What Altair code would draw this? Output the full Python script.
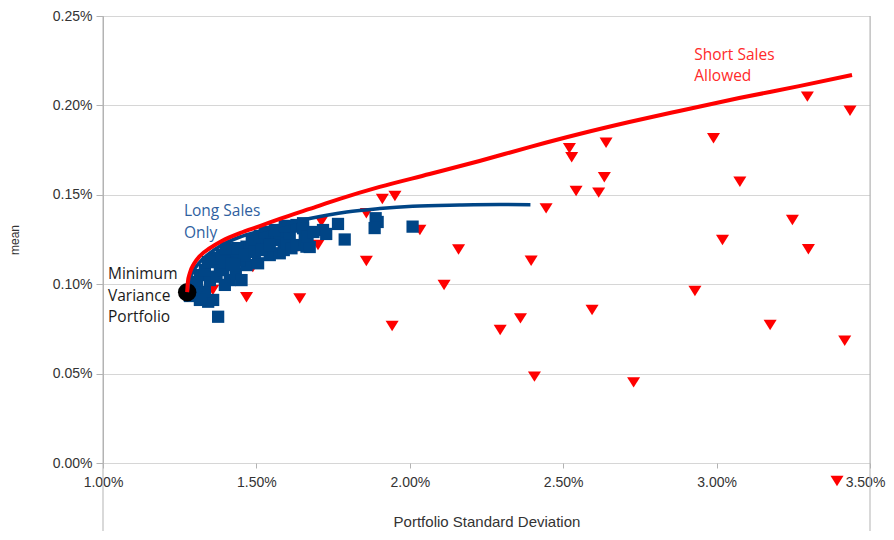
import altair as alt
import pandas as pd

# ---------------- data (percent units) ----------------
short_sd = [1.2744, 1.2767, 1.2832, 1.2962, 1.3158, 1.3483, 1.3874, 1.4460, 1.5111, 1.5762,
            1.6738, 1.7715, 1.9017, 2.0645, 2.2272, 2.3900, 2.5527, 2.7155, 2.8783, 3.0736,
            3.2689, 3.4414]
short_mean = [0.0956, 0.1012, 0.1063, 0.1113, 0.1158, 0.1202, 0.1242, 0.1286, 0.1325, 0.1365,
              0.1421, 0.1477, 0.1544, 0.1616, 0.1689, 0.1767, 0.1840, 0.1907, 0.1969, 0.2041,
              0.2108, 0.2170]

long_sd = [1.2744, 1.2799, 1.2930, 1.3158, 1.3483, 1.3874, 1.4460, 1.5111, 1.5762, 1.6738,
           1.7943, 1.9017, 2.0091, 2.1621, 2.2923, 2.3932]
long_mean = [0.0956, 0.1012, 0.1068, 0.1124, 0.1174, 0.1219, 0.1264, 0.1297, 0.1328, 0.1367,
             0.1404, 0.1423, 0.1436, 0.1443, 0.1446, 0.1445]

asset_sd = [1.4678, 1.6413, 1.6357, 1.7008, 1.7119, 1.8584, 1.9105, 1.9515, 2.0329, 1.8584,
            1.9424, 2.1117, 2.1589, 2.2946, 2.3607, 2.3955, 2.4063, 2.4443, 2.5202, 2.5277,
            2.5420, 2.5941, 2.6156, 2.6341, 2.6397, 2.7295, 2.9294, 2.9899, 3.0192, 3.0758,
            3.1745, 3.2471, 3.2959, 3.2992, 3.4176, 3.4349, 1.3580, 1.4883]
asset_mean = [0.0927, 0.0920, 0.1210, 0.1219, 0.1350, 0.1397, 0.1477, 0.1493, 0.1303, 0.1130,
              0.0766, 0.0996, 0.1194, 0.0744, 0.0809, 0.1131, 0.0483, 0.1424, 0.1760, 0.1710,
              0.1521, 0.0856, 0.1512, 0.1598, 0.1791, 0.0451, 0.0962, 0.1816, 0.1247, 0.1573,
              0.0772, 0.1359, 0.2049, 0.1195, 0.0684, 0.1970, 0.0968, 0.1096]

port_sd = [1.3753, 1.3590, 1.3428, 1.3213, 1.3320, 1.3060, 1.3158, 1.3483, 1.3701, 1.3916,
           1.3809, 1.4134, 1.4329, 1.4515, 1.4678, 1.5055, 1.4134, 1.4297, 1.4460, 1.4678,
           1.4850, 1.5218, 1.5329, 1.5436, 1.5436, 1.5654, 1.5762, 1.5892, 1.5762, 1.5869,
           1.5980, 1.6143, 1.6087, 1.6195, 1.6305, 1.6305, 1.6520, 1.6520, 1.6576, 1.6631,
           1.6738, 1.7171, 1.7275, 1.7660, 1.7878, 1.8887, 1.8952, 1.8854, 2.0091, 1.2897,
           1.2995, 1.3320, 1.3548, 1.3646, 1.3874, 1.3971, 1.4199, 1.4395, 1.4622, 1.4948,
           1.5111, 1.5273, 1.5599, 1.5925, 1.2995, 1.3158, 1.2832, 1.3971, 1.4297, 1.5176,
           1.5436, 1.3418, 1.4004, 1.6667, 1.6859]
port_mean = [0.0818, 0.0912, 0.0902, 0.0940, 0.0958, 0.0996, 0.1051, 0.1023, 0.1042, 0.1079,
             0.1098, 0.1023, 0.1057, 0.1023, 0.1107, 0.1117, 0.1154, 0.1191, 0.1135, 0.1210,
             0.1247, 0.1247, 0.1210, 0.1163, 0.1266, 0.1247, 0.1173, 0.1191, 0.1285, 0.1303,
             0.1229, 0.1201, 0.1285, 0.1322, 0.1219, 0.1331, 0.1341, 0.1313, 0.1247, 0.1210,
             0.1208, 0.1303, 0.1281, 0.1337, 0.1250, 0.1369, 0.1348, 0.1314, 0.1322, 0.0968,
             0.1012, 0.1079, 0.1124, 0.1147, 0.1163, 0.1124, 0.1113, 0.1202, 0.1163, 0.1180,
             0.1270, 0.1292, 0.1303, 0.1326, 0.0951, 0.0912, 0.0934, 0.0996, 0.1107, 0.1191,
             0.1219, 0.1124, 0.1202, 0.1266, 0.1292]

minvar_sd = [1.2744]
minvar_mean = [0.0955]

x_ticks = [1.0, 1.5, 2.0, 2.5, 3.0, 3.5]
y_ticks = [0.0, 0.05, 0.10, 0.15, 0.20, 0.25]
border_sd = [1.0, 3.5]

ann_text = ["Minimum\nVariance\nPortfolio", "Long Sales\nOnly", "Short Sales\nAllowed"]
ann_sd = [1.0163, 1.2637, 2.9270]
ann_mean = [0.1057, 0.1409, 0.2282]
ann_color = ["#1a1a1a", "#2f5f9f", "#ff2a2a"]

x_title = "Portfolio Standard Deviation"
y_title = "mean"

TRI = "M-1,-0.8L1,-0.8L0,0.8Z"
W, H = 767, 447

# ---------------- frames ----------------
short_df = pd.DataFrame({"sd": short_sd, "mean": short_mean})
long_df = pd.DataFrame({"sd": long_sd, "mean": long_mean})
asset_df = pd.DataFrame({"sd": asset_sd, "mean": asset_mean, "kind": ["asset"] * len(asset_sd)})
port_df = pd.DataFrame({"sd": port_sd, "mean": port_mean})
mv_df = pd.DataFrame({"sd": minvar_sd, "mean": minvar_mean})
border_df = pd.DataFrame({"sd": border_sd})
ann_df = pd.DataFrame({"sd": ann_sd, "mean": ann_mean, "text": ann_text, "color": ann_color})

xscale = alt.Scale(domain=[1.0, 3.5], nice=False, zero=False)
yscale = alt.Scale(domain=[0.0, 0.25], nice=False, zero=False)

xaxis = alt.Axis(values=x_ticks, labelExpr="format(datum.value, '.2f') + '%'", grid=False,
                 domain=False, tickSize=5, tickColor="#b3b3b3", labelPadding=7,
                 labelFlush=False, labelOverlap=False,
                 labelOffset={"condition": {"test": "datum.value >= 3.5", "value": -5}, "value": 0},
                 labelFont="Liberation Sans", labelFontSize=14, labelColor="#333333",
                 title=x_title, titleFont="Liberation Sans", titleFontSize=15,
                 titleFontWeight="normal", titleColor="#333333", titlePadding=25)
yaxis = alt.Axis(values=y_ticks, labelExpr="format(datum.value, '.2f') + '%'", grid=True,
                 gridColor="#d6d6d6", domain=True, domainColor="#b3b3b3", tickSize=7,
                 tickColor="#b3b3b3", labelPadding=4, labelFont="Liberation Sans",
                 labelFlush=False, labelOverlap=False,
                 labelFontSize=14, labelColor="#333333", title=y_title,
                 titleFont="Liberation Sans", titleFontSize=12, titleFontWeight="normal",
                 titleColor="#333333", titlePadding=31)

X = alt.X("sd:Q", scale=xscale, axis=xaxis)
Y = alt.Y("mean:Q", scale=yscale, axis=yaxis)

borders = alt.Chart(border_df).mark_rule(color="#b3b3b3", strokeWidth=1).encode(
    x=alt.X("sd:Q", scale=xscale), y=alt.value(0), y2=alt.value(H + 77)
)

assets = alt.Chart(asset_df).mark_point(filled=True, color="#ff0000", opacity=1, size=170).encode(
    x=X, y=Y,
    shape=alt.Shape("kind:N", scale=alt.Scale(domain=["asset"], range=[TRI]),
                    legend=alt.Legend(orient="none", legendX=727, legendY=458, title=None,
                                      padding=0, labelExpr="''", labelFontSize=1,
                                      symbolSize=170, symbolFillColor="#ff0000",
                                      symbolStrokeWidth=0)),
)

ports = alt.Chart(port_df).mark_point(filled=True, shape="square", color="#004586",
                                      opacity=1, size=150).encode(x=X, y=Y)

mv = alt.Chart(mv_df).mark_point(filled=True, shape="circle", color="#000000",
                                 opacity=1, size=340).encode(x=X, y=Y)

long_line = alt.Chart(long_df).mark_line(color="#004586", strokeWidth=3.5,
                                         interpolate="monotone").encode(x=X, y=Y, order="sd:Q")
short_line = alt.Chart(short_df).mark_line(color="#ff0000", strokeWidth=4,
                                           interpolate="monotone").encode(x=X, y=Y, order="sd:Q")

ann = alt.Chart(ann_df).mark_text(align="left", baseline="middle", lineBreak="\n",
                                  lineHeight=21.5, font="Open Sans", fontSize=15.5).encode(
    x=X, y=Y, text="text:N", color=alt.Color("color:N", scale=None)
)

chart = alt.layer(borders, assets, ports, mv, long_line, short_line, ann).properties(
    width=W, height=H,
    padding={"left": 95, "top": 8, "right": 16, "bottom": 68},
    autosize=alt.AutoSizeParams(type="none"),
).configure_view(stroke=None).configure(background="white")

chart.save("out.html", embed_options={"renderer": "svg", "actions": False})
